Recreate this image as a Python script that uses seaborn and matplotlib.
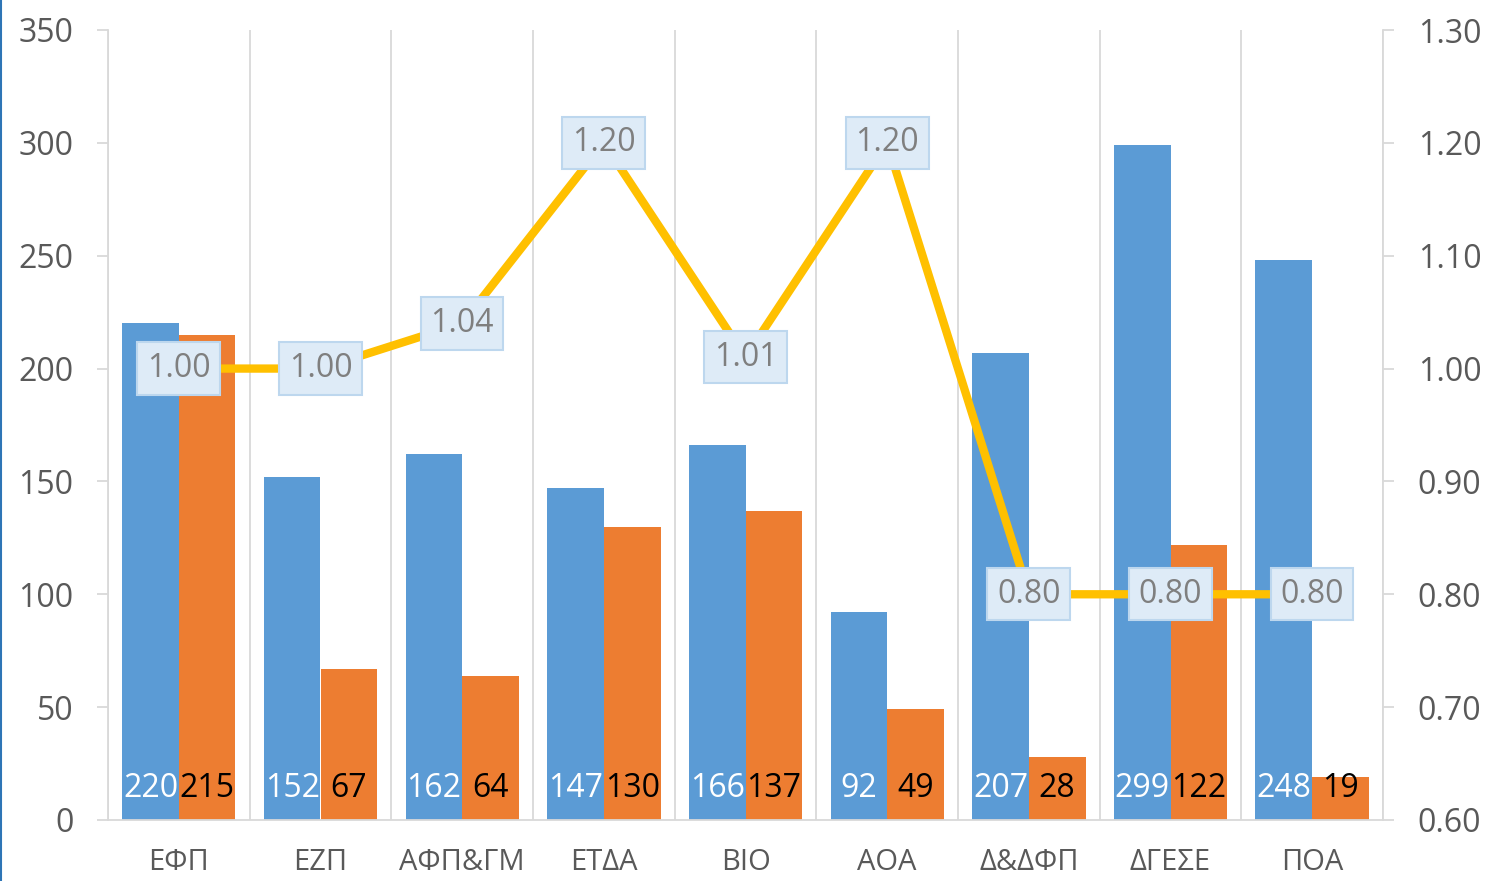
import numpy as np
import pandas as pd
import matplotlib
matplotlib.use("Agg")
import matplotlib.pyplot as plt
import matplotlib.transforms as mtrans
from matplotlib.lines import Line2D
import seaborn as sns

# data
categories = ["ΕΦΠ", "ΕΖΠ", "ΑΦΠ&ΓΜ", "ΕΤΔΑ", "ΒΙΟ", "ΑΟΑ", "Δ&ΔΦΠ", "ΔΓΕΣΕ", "ΠΟΑ"]
series_a = [220, 152, 162, 147, 166, 92, 207, 299, 248]
series_b = [215, 67, 64, 130, 137, 49, 28, 122, 19]
ratio = [1.00, 1.00, 1.04, 1.20, 1.01, 1.20, 0.80, 0.80, 0.80]

blue = "#5b9bd5"
orange = "#ed7d31"
gold = "#ffc000"
grid_c = "#d9d9d9"
txt_c = "#595959"

df = pd.DataFrame({
    "cat": categories * 2,
    "val": series_a + series_b,
    "series": ["a"] * len(categories) + ["b"] * len(categories),
})

sns.set_style("white")
plt.rcParams["font.family"] = ["Open Sans", "DejaVu Sans"]

fig = plt.figure(figsize=(14.87, 8.81), dpi=100)
ax = fig.add_axes([108 / 1487, 1 - 820 / 881, (1383 - 108) / 1487, (820 - 30) / 881])

sns.barplot(data=df, x="cat", y="val", hue="series", palette=[blue, orange],
            order=categories, width=0.8, gap=0, saturation=1, legend=False,
            linewidth=0, edgecolor="none", ax=ax)

n = len(categories)
ax.set_xlim(-0.5, n - 0.5)
ax.set_ylim(0, 350)
ax.set_yticks(np.arange(0, 351, 50))
ax.set_xlabel("")
ax.set_ylabel("")

# vertical grid between categories
ax.set_xticks(np.arange(-0.5, n), minor=True)
ax.grid(which="minor", axis="x", color=grid_c, lw=1.3)
ax.tick_params(axis="x", which="minor", length=8, color=grid_c, width=1.3)
ax.tick_params(axis="x", which="major", length=0, pad=20, labelsize=21, labelcolor=txt_c)
ax.tick_params(axis="y", length=8, color=grid_c, width=1.3, pad=17,
               labelsize=23, labelcolor=txt_c)
for s in ["top", "right"]:
    ax.spines[s].set_visible(False)
for s in ["left", "bottom"]:
    ax.spines[s].set_color(grid_c)
    ax.spines[s].set_linewidth(1.3)

# value labels at the bottom of each bar
trans = mtrans.blended_transform_factory(ax.transData, ax.transAxes)
for cont, vals, col in zip(ax.containers, [series_a, series_b], ["white", "black"]):
    for rect, v in zip(cont, vals):
        ax.text(rect.get_x() + rect.get_width() / 2, 0.04, str(v), transform=trans,
                ha="center", va="center", fontsize=23, color=col)

# ratio line on secondary axis
ax2 = ax.twinx()
xs = np.arange(n)
sns.lineplot(x=xs, y=ratio, color=gold, lw=6, ax=ax2)
ax2.set_xlim(-0.5, n - 0.5)
ax2.set_ylim(0.6, 1.3)
ax2.set_yticks(np.arange(0.6, 1.301, 0.1))
ax2.yaxis.set_major_formatter(matplotlib.ticker.FormatStrFormatter("%.2f"))
ax2.tick_params(axis="y", length=8, color=grid_c, width=1.3, pad=17,
                labelsize=23, labelcolor=txt_c)
for s in ["top", "left", "bottom"]:
    ax2.spines[s].set_visible(False)
ax2.spines["right"].set_color(grid_c)
ax2.spines["right"].set_linewidth(1.3)

for x, v in zip(xs, ratio):
    ax2.text(x, v, f"{v:.2f}", ha="center", va="center", fontsize=23, color="#7f7f7f",
             bbox=dict(boxstyle="square,pad=0.3", fc="#deebf7", ec="#bdd7ee", lw=1.5))

fig.add_artist(Line2D([0.0008, 0.0008], [0, 1], color="#2e75b6", lw=1.5))

fig.savefig("out.png", dpi=100)
